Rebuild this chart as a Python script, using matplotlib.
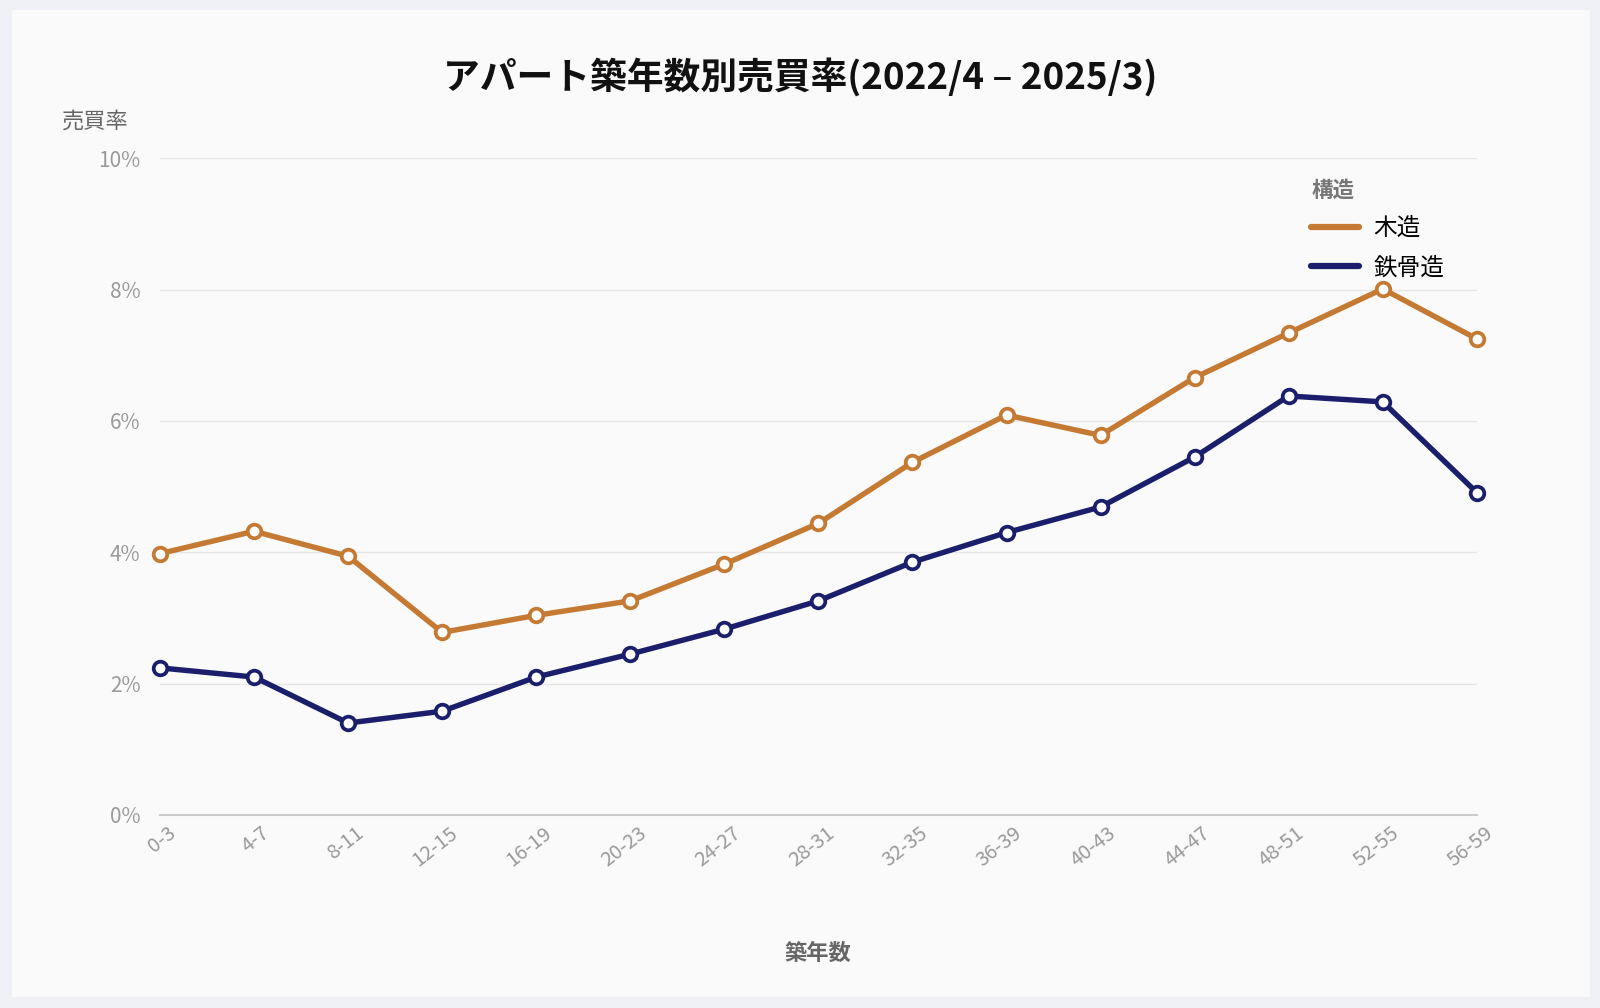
import matplotlib.pyplot as plt
import numpy as np
from matplotlib.patches import Rectangle
from matplotlib.transforms import ScaledTranslation

plt.rcParams['font.family'] = ['Noto Sans CJK JP', 'DejaVu Sans']

# data
ages = ['0-3', '4-7', '8-11', '12-15', '16-19', '20-23', '24-27', '28-31',
        '32-35', '36-39', '40-43', '44-47', '48-51', '52-55', '56-59']
wood = [3.98, 4.32, 3.94, 2.78, 3.04, 3.26, 3.82, 4.44,
        5.37, 6.09, 5.78, 6.66, 7.34, 8.01, 7.25]
steel = [2.24, 2.10, 1.40, 1.58, 2.10, 2.45, 2.83, 3.26,
         3.85, 4.30, 4.69, 5.45, 6.38, 6.29, 4.91]
yticks = [0, 2, 4, 6, 8, 10]

wood_color = '#C47A33'
steel_color = '#1B1F6B'

fig = plt.figure(figsize=(16, 10.08), dpi=100)
fig.patch.set_facecolor('#eef0f5')
# white panel behind everything
fig.patches.append(Rectangle((12 / 1600, 1 - 997 / 1008), (1590 - 12) / 1600, (997 - 10) / 1008,
                             transform=fig.transFigure, facecolor='#fafafa', edgecolor='none',
                             zorder=-10))

ax = fig.add_axes([0.1, 0.1915, 0.823, 0.6515])
ax.set_facecolor('none')

x = np.arange(len(ages))
ax.plot(x, wood, color=wood_color, lw=3.9, marker='o', ms=9.8, mfc='white',
        mec=wood_color, mew=2.7, label='木造', zorder=3, clip_on=False)
ax.plot(x, steel, color=steel_color, lw=3.9, marker='o', ms=9.8, mfc='white',
        mec=steel_color, mew=2.7, label='鉄骨造', zorder=3, clip_on=False)

ax.set_xlim(0, len(ages) - 1)
ax.set_ylim(0, 10)
ax.set_yticks(yticks)
ax.set_yticklabels([f'{t}%' for t in yticks])
ax.set_xticks(x)
ax.set_xticklabels([])
ax.tick_params(axis='both', length=0, labelsize=15, colors='#9a9a9a')
ax.tick_params(axis='y', pad=14)

# rotated category labels, anchored at their baseline end just below the axis
offset = ScaledTranslation(17 / 100, -20 / 100, fig.dpi_scale_trans)
for i, lab in enumerate(ages):
    ax.text(i, 0, lab, transform=ax.get_xaxis_transform() + offset, rotation=38,
            rotation_mode='anchor', ha='right', va='baseline', fontsize=14.5, color='#9a9a9a')

ax.grid(axis='y', color='#e6e6e6', lw=1)
ax.set_axisbelow(True)
for s in ['top', 'right', 'left']:
    ax.spines[s].set_visible(False)
ax.spines['bottom'].set_color('#cccccc')
ax.spines['bottom'].set_linewidth(1.5)

fig.text(0.5, 1 - 77 / 1008, 'アパート築年数別売買率(2022/4 – 2025/3)', ha='center', va='center',
         fontsize=26.5, fontweight='bold', color='#111111')
fig.text(62 / 1600, 1 - 121 / 1008, '売買率', ha='left', va='center', fontsize=16, color='#666666')
fig.text(818 / 1600, 1 - 953 / 1008, '築年数', ha='center', va='center', fontsize=16,
         fontweight='bold', color='#666666')

leg = ax.legend(loc='upper left', bbox_to_anchor=(0.858, 1.0), frameon=False, title='構造',
                fontsize=17, handlelength=2.05, handletextpad=0.6, labelspacing=0.7,
                alignment='left')
leg.get_title().set_fontsize(15.5)
leg.get_title().set_fontweight('bold')
leg.get_title().set_color('#777777')
for h in leg.legend_handles:
    h.set_marker('')
    h.set_linewidth(4.5)
    h.set_solid_capstyle('round')

fig.savefig('out.png', dpi=100, facecolor=fig.get_facecolor())
